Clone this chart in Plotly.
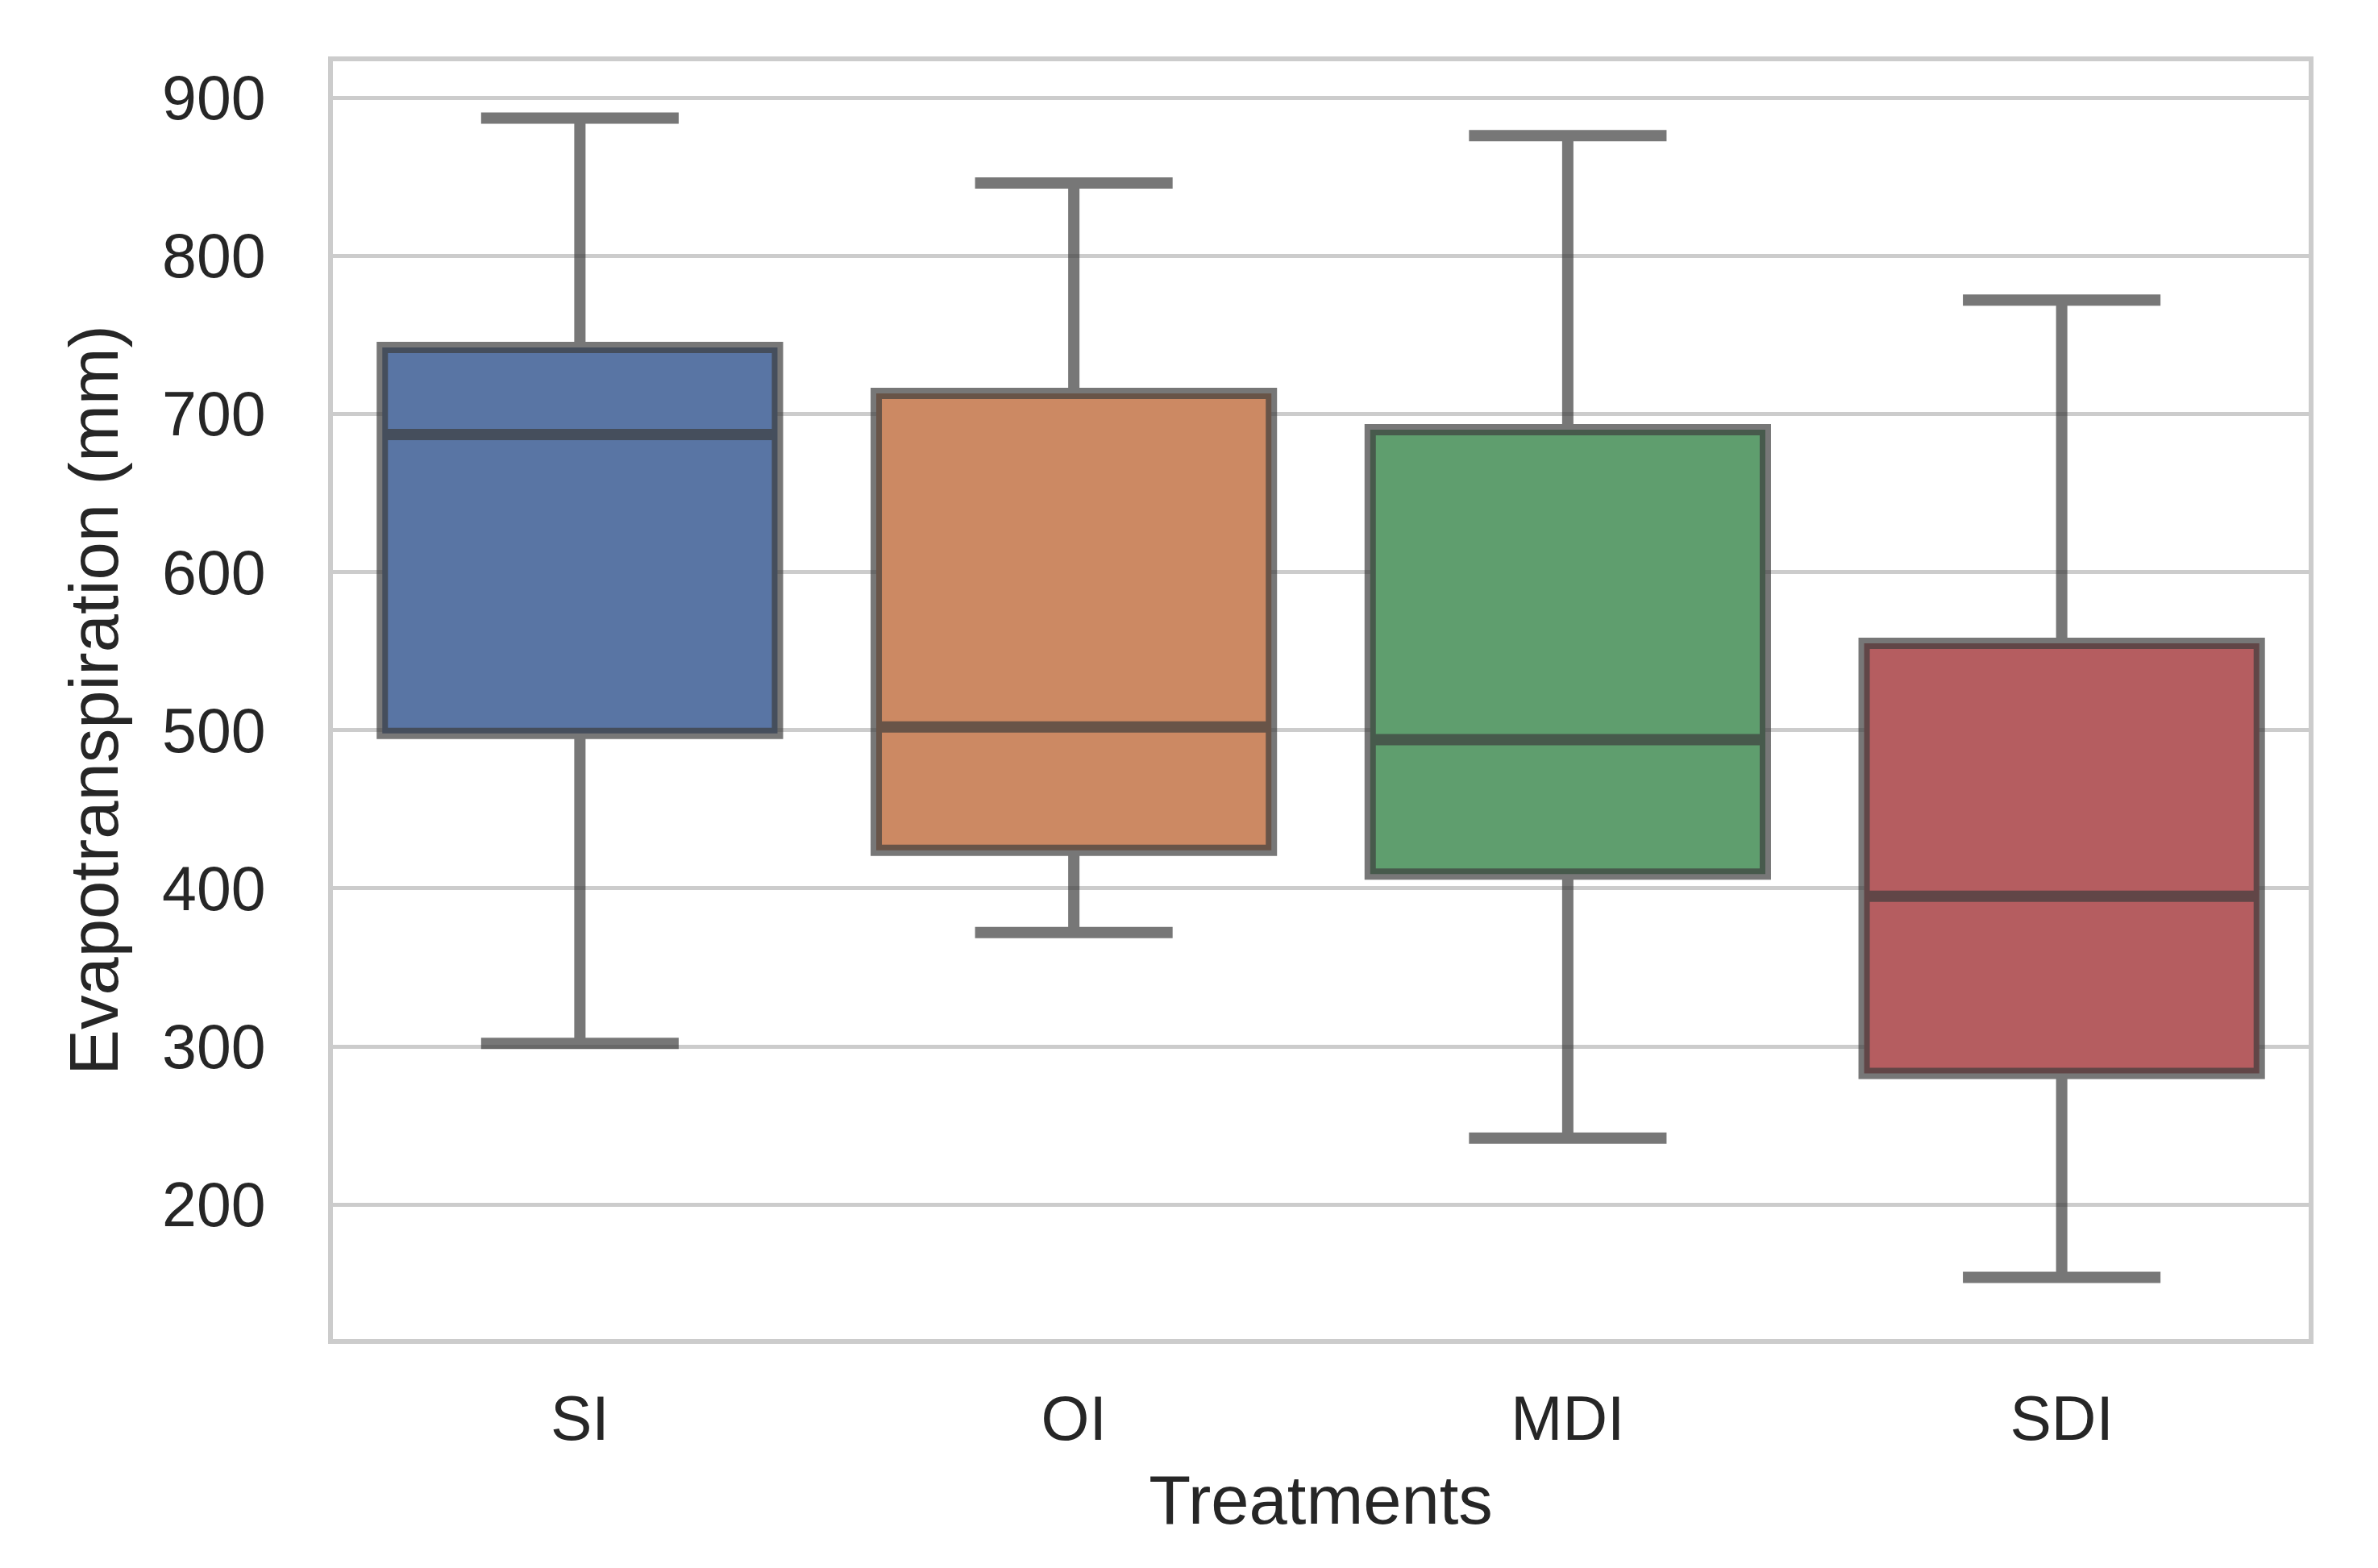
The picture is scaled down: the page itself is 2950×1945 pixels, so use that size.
import plotly.graph_objects as go

categories = ["SI", "OI", "MDI", "SDI"]
lower_whisker = [302, 372, 242, 154]
q1_values = [498, 424, 409, 283]
median_values = [687, 502, 494, 395]
q3_values = [742, 713, 690, 555]
upper_whisker = [887, 846, 876, 772]
box_colors = ["#5975a4", "#cc8963", "#5f9e6e", "#b55d60"]
y_ticks = [200, 300, 400, 500, 600, 700, 800, 900]

text_color = "#262626"
grid_color = "#cccccc"
font_family = "Liberation Sans, Arial, Helvetica, sans-serif"

fig = go.Figure()
for i, cat in enumerate(categories):
    fig.add_trace(go.Box(
        x=[cat],
        q1=[q1_values[i]],
        median=[median_values[i]],
        q3=[q3_values[i]],
        lowerfence=[lower_whisker[i]],
        upperfence=[upper_whisker[i]],
        width=0.8,
        whiskerwidth=0.5,
        fillcolor=box_colors[i],
        line=dict(color="rgba(61,61,61,0.7)", width=14),
        boxpoints=False,
        showlegend=False,
        hoverinfo="skip",
    ))

fig.update_layout(
    width=2950,
    height=1945,
    margin=dict(l=405, r=94, t=68, b=292),
    paper_bgcolor="white",
    plot_bgcolor="white",
    font=dict(family=font_family, color=text_color),
    boxmode="overlay",
)

fig.update_xaxes(
    type="category",
    categoryorder="array",
    categoryarray=categories,
    range=[-0.5, 3.5],
    showgrid=False,
    zeroline=False,
    showline=True,
    mirror=True,
    linecolor=grid_color,
    linewidth=6,
    ticks="outside",
    ticklen=27,
    tickcolor="rgba(0,0,0,0)",
    tickfont=dict(size=77, color=text_color, family=font_family),
    title=dict(text="Treatments", font=dict(size=85, color=text_color, family=font_family), standoff=31),
)

fig.update_yaxes(
    range=[115, 923],
    tickvals=y_ticks,
    ticktext=[str(v) for v in y_ticks],
    showgrid=True,
    gridcolor=grid_color,
    gridwidth=5,
    zeroline=False,
    showline=True,
    mirror=True,
    linecolor=grid_color,
    linewidth=6,
    ticks="outside",
    ticklen=62,
    tickcolor="rgba(0,0,0,0)",
    tickfont=dict(size=77, color=text_color, family=font_family),
    title=dict(text="Evapotranspiration (mm)", font=dict(size=85, color=text_color, family=font_family), standoff=28),
)

fig.write_html("out.html")
